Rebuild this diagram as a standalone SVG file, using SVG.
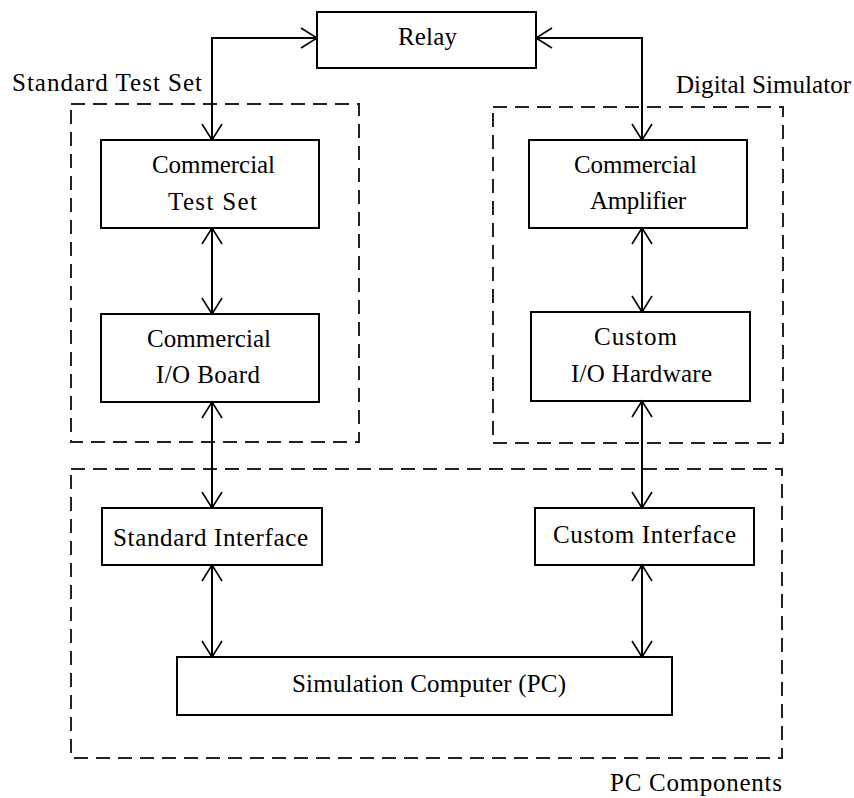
<svg xmlns="http://www.w3.org/2000/svg" width="854" height="798" viewBox="0 0 854 798">
<style>
.box{fill:#fff;stroke:#000;stroke-width:2}
.grp{fill:none;stroke:#222;stroke-width:2;stroke-dasharray:14 8}
.lbl{font-family:"Liberation Serif","Times New Roman",serif;font-size:25px;fill:#000}
.con{fill:none;stroke:#000;stroke-width:2;marker-start:url(#ah);marker-end:url(#ah)}
</style>
<defs>
<marker id="ah" markerUnits="userSpaceOnUse" viewBox="-18 -11 20 22" refX="0" refY="0" markerWidth="20" markerHeight="22" orient="auto-start-reverse" overflow="visible">
<path d="M-16,-10 L0,0 L-16,10" fill="none" stroke="#000" stroke-width="1.6"/>
<circle cx="-1" cy="0" r="2" fill="#000"/>
</marker>
</defs>
<g id="group-standard-test-set">
<rect class="grp" x="71" y="104" width="288" height="338"/>
<text class="lbl" x="12" y="91" textLength="190">Standard Test Set</text>
</g>
<g id="group-digital-simulator">
<rect class="grp" x="493" y="107" width="290" height="336"/>
<text class="lbl" x="676" y="93" textLength="175">Digital Simulator</text>
</g>
<g id="group-pc-components">
<rect class="grp" x="71" y="469" width="711" height="289"/>
<text class="lbl" x="610" y="791" textLength="172">PC Components</text>
</g>
<g id="relay">
<rect class="box" x="317" y="12" width="219" height="56"/>
<text class="lbl" x="398" y="45" textLength="59">Relay</text>
</g>
<g id="commercial-test-set">
<rect class="box" x="101" y="140" width="218" height="88"/>
<text class="lbl" x="152" y="173" textLength="123">Commercial</text>
<text class="lbl" x="168" y="210" textLength="89">Test Set</text>
</g>
<g id="commercial-amplifier">
<rect class="box" x="529" y="140" width="218" height="88"/>
<text class="lbl" x="574" y="173" textLength="123">Commercial</text>
<text class="lbl" x="590" y="209" textLength="96">Amplifier</text>
</g>
<g id="commercial-io-board">
<rect class="box" x="101" y="314" width="218" height="88"/>
<text class="lbl" x="147" y="347" textLength="124">Commercial</text>
<text class="lbl" x="156" y="383" textLength="104">I/O Board</text>
</g>
<g id="custom-io-hardware">
<rect class="box" x="531" y="312" width="219" height="89"/>
<text class="lbl" x="594" y="345" textLength="83">Custom</text>
<text class="lbl" x="571" y="382" textLength="141">I/O Hardware</text>
</g>
<g id="standard-interface">
<rect class="box" x="102" y="508" width="220" height="57"/>
<text class="lbl" x="113" y="546" textLength="195">Standard Interface</text>
</g>
<g id="custom-interface">
<rect class="box" x="535" y="508" width="219" height="57"/>
<text class="lbl" x="553" y="543" textLength="183">Custom Interface</text>
</g>
<g id="simulation-computer">
<rect class="box" x="177" y="657" width="495" height="58"/>
<text class="lbl" x="292" y="692" textLength="274">Simulation Computer (PC)</text>
</g>
<g id="connectors">
<path class="con" d="M317,38 H212 V140"/>
<path class="con" d="M536,38 H642 V140"/>
<path class="con" d="M212,228 V314"/>
<path class="con" d="M642,228 V312"/>
<path class="con" d="M212,402 V508"/>
<path class="con" d="M642,401 V508"/>
<path class="con" d="M212,565 V657"/>
<path class="con" d="M642,565 V657"/>
</g>
</svg>
